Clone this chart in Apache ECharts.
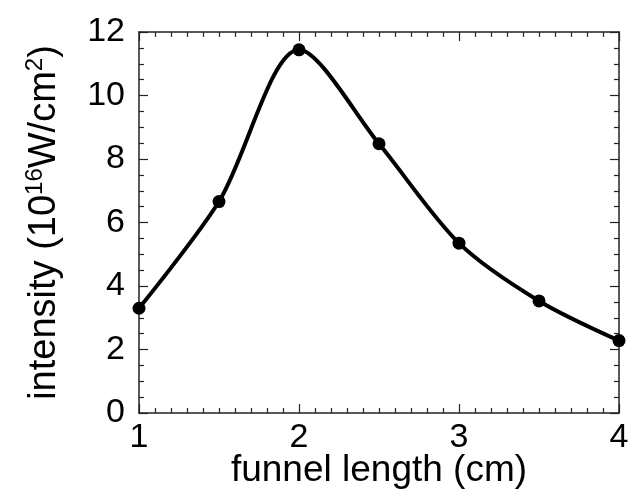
<!DOCTYPE html>
<html>
<head>
<meta charset="utf-8">
<script src="https://cdn.jsdelivr.net/npm/echarts@6/dist/echarts.min.js"></script>
<style>
  html, body { margin: 0; padding: 0; background: #fff; }
  #chart { width: 633px; height: 493px; }
</style>
</head>
<body>
<div id="chart"></div>
<script>
// Peak intensity versus funnel length
const funnelLength = [1, 1.5, 2, 2.5, 3, 3.5, 4];
const intensity = [3.30, 6.66, 11.44, 8.48, 5.35, 3.53, 2.28];

const xTicks = { min: 1, max: 4, interval: 1 };
const yTicks = { min: 0, max: 12, interval: 2 };

const FONT = '"Liberation Sans", Arial, sans-serif';
const AXIS_COLOR = '#222';

function frameAxis(range, position, withLabels, minorSplit, extra) {
  return Object.assign({
    type: 'value',
    position: position,
    min: range.min,
    max: range.max,
    interval: range.interval,
    axisLine: { show: true, onZero: false, lineStyle: { color: AXIS_COLOR, width: 1.5 } },
    axisTick: { show: true, inside: true, length: 9, lineStyle: { color: AXIS_COLOR, width: 1.2 } },
    minorTick: { show: true, splitNumber: minorSplit, length: 5, lineStyle: { color: AXIS_COLOR, width: 1.2 } },
    splitLine: { show: false },
    minorSplitLine: { show: false },
    axisLabel: {
      show: withLabels,
      color: '#000',
      fontFamily: FONT,
      fontSize: 34
    }
  }, extra || {});
}

const chart = echarts.init(document.getElementById('chart'));
chart.setOption({
  animation: false,
  backgroundColor: '#fff',
  grid: {
    left: 139, right: 14, top: 32, bottom: 80,
    containLabel: false,
    outerBoundsMode: 'none'
  },
  xAxis: [
    frameAxis(xTicks, 'bottom', true, 10, {
      name: 'funnel length (cm)',
      nameLocation: 'middle',
      nameGap: 39,
      nameMoveOverlap: false,
      nameTextStyle: { color: '#000', fontFamily: FONT, fontSize: 37 },
      axisLabel: { show: true, color: '#000', fontFamily: FONT, fontSize: 34, margin: 8 }
    }),
    frameAxis(xTicks, 'top', false, 10)
  ],
  yAxis: [
    frameAxis(yTicks, 'left', true, 4, {
      name: '{a|intensity (10}{s|16}{a|W/cm}{s|2}{a|)}',
      nameLocation: 'middle',
      nameRotate: 90,
      nameGap: 72,
      nameMoveOverlap: false,
      nameTextStyle: {
        color: '#000',
        fontFamily: FONT,
        rich: {
          a: { fontFamily: FONT, fontSize: 38, color: '#000', lineHeight: 44 },
          s: { fontFamily: FONT, fontSize: 24, color: '#000', verticalAlign: 'top', lineHeight: 44 }
        }
      },
      axisLabel: { show: true, color: '#000', fontFamily: FONT, fontSize: 34, margin: 14 }
    }),
    frameAxis(yTicks, 'right', false, 4)
  ],
  series: [{
    type: 'line',
    xAxisIndex: 0,
    yAxisIndex: 0,
    data: funnelLength.map((x, i) => [x, intensity[i]]),
    smooth: 0.3,
    symbol: 'circle',
    symbolSize: 13,
    itemStyle: { color: '#000' },
    lineStyle: { color: '#000', width: 4 }
  }]
});
</script>
</body>
</html>
